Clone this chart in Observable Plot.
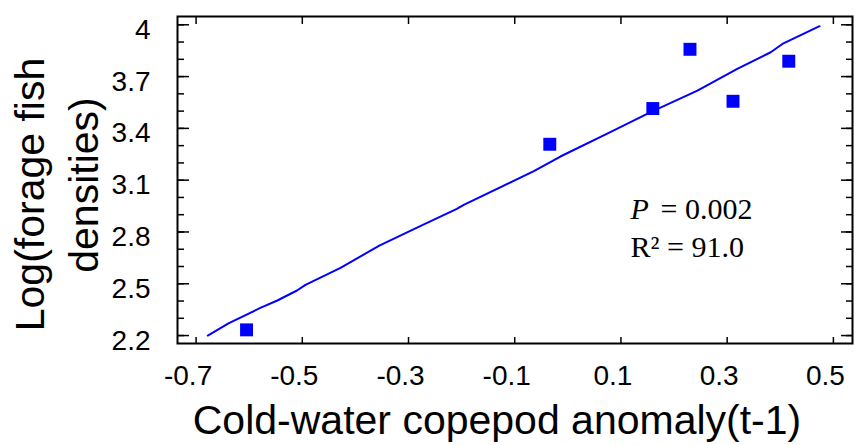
<!DOCTYPE html>
<html>
<head>
<meta charset="utf-8">
<script src="https://cdn.jsdelivr.net/npm/d3@7"></script>
<script src="https://cdn.jsdelivr.net/npm/@observablehq/plot@0.6"></script>
<style>
  html, body { margin: 0; padding: 0; background: #fff; }
  #chart svg { display: block; }
</style>
</head>
<body>
<div id="chart"></div>
<script>
// Observed points
const anomaly = [-0.605, -0.034, 0.160, 0.230, 0.311, 0.416];
const logDensity = [2.233, 3.308, 3.515, 3.858, 3.557, 3.789];

// Fitted line as drawn in the figure
const fitX = [-0.678, -0.639, -0.579, -0.547, -0.510, -0.494, -0.428, -0.355, -0.279, -0.209, -0.196, -0.064, -0.014, 0.080, 0.156, 0.244, 0.319, 0.382, 0.404, 0.474];
const fitY = [2.200, 2.271, 2.360, 2.403, 2.461, 2.494, 2.592, 2.721, 2.832, 2.934, 2.957, 3.152, 3.237, 3.378, 3.494, 3.619, 3.745, 3.841, 3.889, 3.992];

// Ticks
const xTicks = [-0.7, -0.5, -0.3, -0.1, 0.1, 0.3, 0.5];
const yTicks = [2.2, 2.5, 2.8, 3.1, 3.4, 3.7, 4.0];
const yMinorTicks = [2.2, 2.3, 2.4, 2.5, 2.6, 2.7, 2.8, 2.9, 3.0, 3.1, 3.2, 3.3, 3.4, 3.5, 3.6, 3.7, 3.8, 3.9, 4.0];

// Texts
const xTitle = "Cold-water copepod anomaly(t-1)";
const yTitle1 = "Log(forage fish";
const yTitle2 = "densities)";
const pLabel = "P";
const pValue = "= 0.002";
const r2Label = "R\u00B2 = 91.0";

const points = anomaly.map((x, i) => ({x, y: logDensity[i]}));
const fit = fitX.map((x, i) => ({x, y: fitY[i]}));
const blank = () => "";
const fmt1 = d => (+d).toFixed(1);
const fmtY = d => d3.format("~g")(+(+d).toFixed(1));

const chart = Plot.plot({
  width: 854,
  height: 445,
  marginLeft: 177,
  marginRight: 2,
  marginTop: 16,
  marginBottom: 102,
  style: {fontFamily: "'Liberation Sans', Arial, sans-serif", fontSize: "28px", color: "#000", background: "#fff"},
  x: {domain: [-0.735, 0.536]},
  y: {domain: [2.154, 4.048]},
  marks: [
    // inward tick marks
    Plot.axisY({anchor: "left", ticks: yMinorTicks, tickSize: 7, dx: 7, tickFormat: blank, label: null, strokeWidth: 1.5}),
    Plot.axisY({anchor: "left", ticks: yTicks, tickSize: 12, dx: 12, tickFormat: blank, label: null, strokeWidth: 1.5}),
    Plot.axisY({anchor: "right", ticks: yMinorTicks, tickSize: 7, dx: -7, tickFormat: blank, label: null, strokeWidth: 1.5}),
    Plot.axisY({anchor: "right", ticks: yTicks, tickSize: 12, dx: -12, tickFormat: blank, label: null, strokeWidth: 1.5}),
    Plot.axisX({anchor: "bottom", ticks: xTicks, tickSize: 6, dy: -6, tickFormat: blank, label: null, strokeWidth: 1.5}),
    Plot.axisX({anchor: "top", ticks: xTicks, tickSize: 7, dy: 7, tickFormat: blank, label: null, strokeWidth: 1.5}),
    // tick labels
    Plot.axisY({anchor: "left", ticks: yTicks, tickSize: 0, tickPadding: 27, dy: 5, tickFormat: fmtY, label: null, fontSize: 28}),
    Plot.axisX({anchor: "bottom", ticks: xTicks, tickSize: 0, tickPadding: 22, dx: -8, tickFormat: fmt1, label: null, fontSize: 28}),
    // frame
    Plot.frame({stroke: "#000", strokeWidth: 2}),
    // data
    Plot.line(fit, {x: "x", y: "y", stroke: "#0000ff", strokeWidth: 2}),
    Plot.dot(points, {x: "x", y: "y", symbol: "square", r: 7.3, fill: "#0000ff", stroke: "none"}),
    // axis titles
    Plot.text([xTitle], {text: d => d, frameAnchor: "bottom", dy: 90.3, dx: -18, fontSize: 41, lineAnchor: "bottom", textAnchor: "middle"}),
    Plot.text([yTitle1], {text: d => d, frameAnchor: "left", rotate: -90, dx: -134, dy: 14.5, fontSize: 41, lineAnchor: "bottom", textAnchor: "middle"}),
    Plot.text([yTitle2], {text: d => d, frameAnchor: "left", rotate: -90, dx: -80, dy: 5, fontSize: 41, lineAnchor: "bottom", textAnchor: "middle"}),
    // annotation
    Plot.text([pLabel], {text: d => d, frameAnchor: "top-left", dx: 453, dy: 202.3, fontSize: 30, fontStyle: "italic", fontFamily: "'Liberation Serif', 'Times New Roman', serif", lineAnchor: "bottom", textAnchor: "start"}),
    Plot.text([pValue], {text: d => d, frameAnchor: "top-left", dx: 483, dy: 202.3, fontSize: 30, fontFamily: "'Liberation Serif', 'Times New Roman', serif", lineAnchor: "bottom", textAnchor: "start"}),
    Plot.text([r2Label], {text: d => d, frameAnchor: "top-left", dx: 453, dy: 240, fontSize: 30, fontFamily: "'Liberation Serif', 'Times New Roman', serif", lineAnchor: "bottom", textAnchor: "start"})
  ]
});
document.getElementById("chart").appendChild(chart);
</script>
</body>
</html>
